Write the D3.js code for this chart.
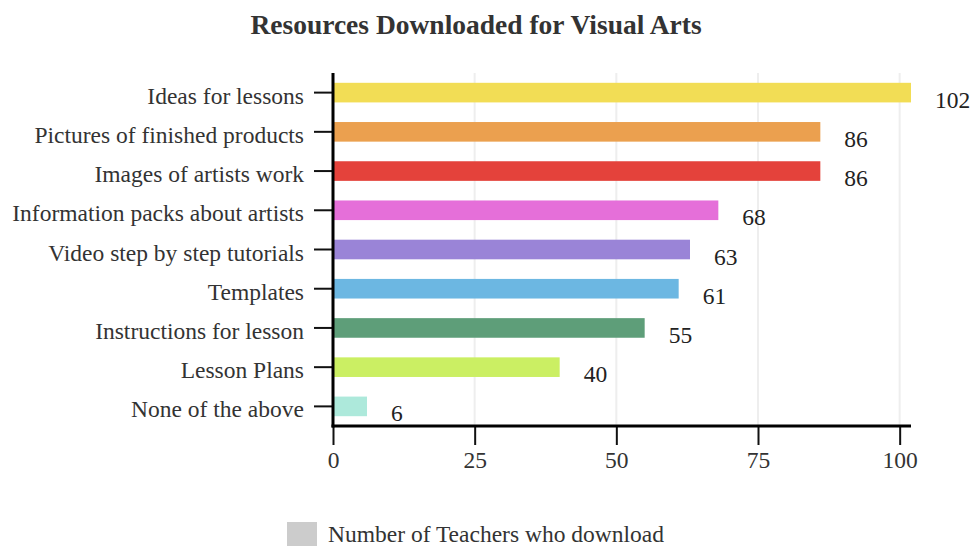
<!DOCTYPE html>
<html>
<head>
<meta charset="utf-8">
<script src="https://cdn.jsdelivr.net/npm/d3@7"></script>
<style>
  html, body { margin: 0; padding: 0; background: #fff; }
  svg { display: block; }
  text { font-family: "Liberation Serif", "Times New Roman", serif; }
</style>
</head>
<body>
<svg id="chart" width="975" height="546"></svg>
<script>
// Resources downloaded, one bar per resource type
const categories = [
  "Ideas for lessons",
  "Pictures of finished products",
  "Images of artists work",
  "Information packs about artists",
  "Video step by step tutorials",
  "Templates",
  "Instructions for lesson",
  "Lesson Plans",
  "None of the above"
];
const values = [102, 86, 86, 68, 63, 61, 55, 40, 6];
const barColors = [
  "#f2dd55", "#eba04f", "#e4423b", "#e56fd9", "#9a84d7",
  "#6cb7e2", "#5e9e79", "#cbef63", "#ade9db"
];
const xTicks = [0, 25, 50, 75, 100];
const titleText = "Resources Downloaded for Visual Arts";
const legendLabel = "Number of Teachers who download";

const FONT = 23.5;
const svg = d3.select("#chart");
const plot = { left: 333, right: 911, top: 73, bottom: 426 };

const x = d3.scaleLinear().domain([0, 102]).range([plot.left, plot.right]);
const y = d3.scaleBand()
  .domain(categories)
  .range([plot.top, plot.bottom])
  .paddingInner(0.5)
  .paddingOuter(0.25);

// title
svg.append("text")
  .attr("x", 476)
  .attr("y", 34)
  .attr("text-anchor", "middle")
  .attr("font-size", 27.5)
  .attr("font-weight", "bold")
  .attr("fill", "#333")
  .text(titleText);

// vertical grid lines
svg.append("g")
  .selectAll("line")
  .data(xTicks.filter(t => t > 0))
  .join("line")
  .attr("x1", d => x(d)).attr("x2", d => x(d))
  .attr("y1", plot.top).attr("y2", plot.bottom)
  .attr("stroke", "#eeeeee")
  .attr("stroke-width", 2);

// bars
const rows = categories.map((c, i) => ({ c, v: values[i], color: barColors[i] }));
svg.append("g")
  .selectAll("rect")
  .data(rows)
  .join("rect")
  .attr("x", x(0))
  .attr("y", d => y(d.c))
  .attr("width", d => x(d.v) - x(0))
  .attr("height", y.bandwidth())
  .attr("fill", d => d.color);

// value labels
svg.append("g")
  .selectAll("text")
  .data(rows)
  .join("text")
  .attr("x", d => x(d.v) + 24)
  .attr("y", d => y(d.c) + y.bandwidth() / 2 + 15)
  .attr("font-size", FONT)
  .attr("fill", "#222")
  .text(d => d.v);

// y axis
const yAxis = svg.append("g")
  .attr("transform", `translate(${plot.left},0)`)
  .call(d3.axisLeft(y).tickSize(19).tickPadding(10));
yAxis.select(".domain").remove();
yAxis.selectAll(".tick line").attr("stroke", "#111").attr("stroke-width", 2);
yAxis.selectAll(".tick text")
  .attr("font-family", "Liberation Serif, Times New Roman, serif")
  .attr("font-size", FONT)
  .attr("dy", 11)
  .attr("fill", "#333");
svg.append("line")
  .attr("x1", plot.left).attr("x2", plot.left)
  .attr("y1", plot.top).attr("y2", plot.bottom + 1.5)
  .attr("stroke", "#000").attr("stroke-width", 3);

// x axis
const xAxis = svg.append("g")
  .attr("transform", `translate(0,${plot.bottom})`)
  .call(d3.axisBottom(x).tickValues(xTicks).tickSize(19).tickPadding(6));
xAxis.select(".domain").remove();
xAxis.selectAll(".tick line").attr("stroke", "#111").attr("stroke-width", 2);
xAxis.selectAll(".tick text")
  .attr("font-family", "Liberation Serif, Times New Roman, serif")
  .attr("font-size", FONT)
  .attr("fill", "#333");
svg.append("line")
  .attr("x1", plot.left - 1.5).attr("x2", plot.right)
  .attr("y1", plot.bottom).attr("y2", plot.bottom)
  .attr("stroke", "#000").attr("stroke-width", 3);

// legend
const legend = svg.append("g").attr("transform", "translate(287,522)");
legend.append("rect")
  .attr("width", 30).attr("height", 24)
  .attr("fill", "#cccccc");
legend.append("text")
  .attr("x", 41).attr("y", 20)
  .attr("font-size", FONT)
  .attr("fill", "#333")
  .text(legendLabel);
</script>
</body>
</html>
